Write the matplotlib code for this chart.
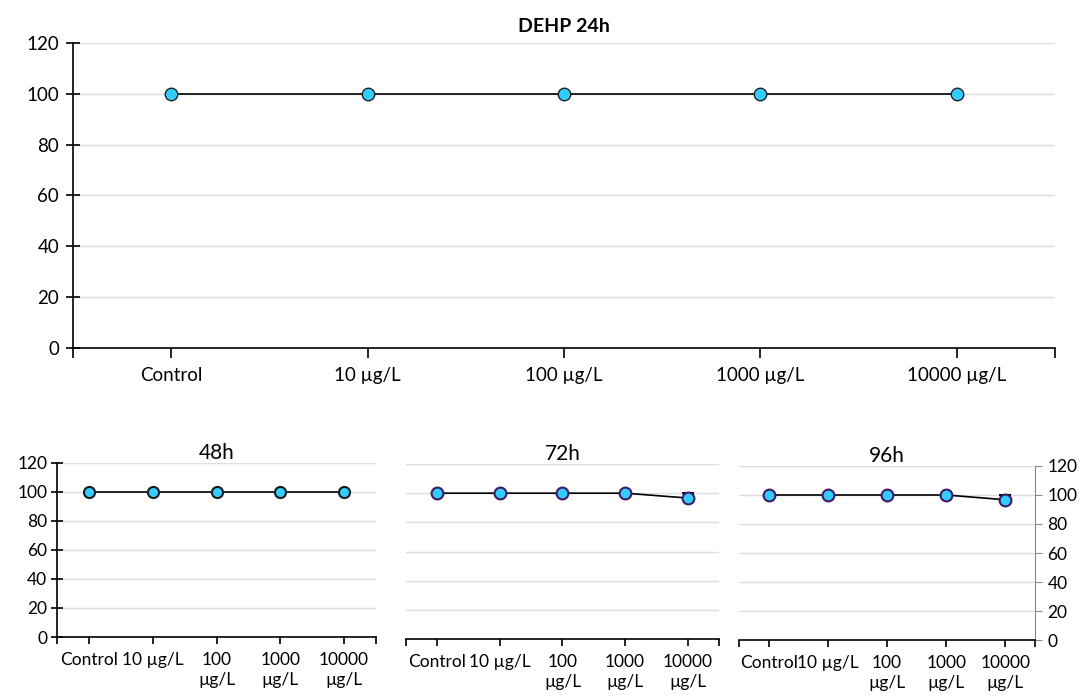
import numpy as np
import matplotlib.pyplot as plt

plt.rcParams['font.family'] = ['Lato', 'DejaVu Sans']

doses = ['Control', '10 µg/L', '100 µg/L', '1000 µg/L', '10000 µg/L']
doses_small = ['Control', '10 µg/L', '100\nµg/L', '1000\nµg/L', '10000\nµg/L']

surv_24h = [100, 100, 100, 100, 100]
surv_48h = [100, 100, 100, 100, 100]
surv_72h = [100, 100, 100, 100, 96.7]
surv_96h = [100, 100, 100, 100, 96.7]
err_72h = [0, 0, 0, 0, 3.3]
err_96h = [0, 0, 0, 0, 3.3]

fill = '#33CCFF'
grid_c = '#DEDEDE'

fig = plt.figure(figsize=(10.88, 7), dpi=100)

def base(ax, n, labels, fs):
    x = np.arange(n)
    ax.set_xlim(-0.5, n - 0.5)
    ax.set_ylim(0, 120)
    ax.set_yticks(range(0, 121, 20))
    ax.set_xticks(x)
    ax.set_xticks([-0.5, n - 0.5], minor=True)
    ax.set_xticklabels(labels, fontsize=fs, linespacing=1.25)
    ax.tick_params(axis='y', labelsize=fs)
    for y in range(20, 121, 20):
        ax.axhline(y, color=grid_c, lw=1, zorder=0)
    for s in ['top', 'right']:
        ax.spines[s].set_visible(False)
    ax.spines['bottom'].set_linewidth(1.2)
    ax.spines['left'].set_linewidth(1.2)
    return x

# 24h - большой график
ax = fig.add_axes([0.0671, 0.5029, 0.9026, 0.4357])
x = base(ax, 5, doses, 13.5)
ax.plot(x, surv_24h, '-', color='black', lw=1.2, marker='o', ms=9,
        mfc=fill, mec='#222222', mew=1, zorder=3)
ax.tick_params(axis='x', which='both', direction='out', length=7, width=1.2, pad=7)
ax.tick_params(axis='y', direction='inout', length=10, width=1.2, pad=5)
ax.set_title('DEHP 24h', fontsize=14, fontweight='bold', pad=8)

# 48h
ax = fig.add_axes([0.0524, 0.09, 0.2932, 0.2486])
x = base(ax, 5, doses_small, 12.5)
ax.plot(x, surv_48h, '-', color='black', lw=1.2, marker='o', ms=8,
        mfc=fill, mec='#1A1A1A', mew=1.5, zorder=3)
ax.tick_params(axis='x', which='both', direction='out', length=5, width=1.2, pad=6)
ax.tick_params(axis='y', direction='inout', length=8, width=1.2, pad=3)
ax.set_title('48h', fontsize=15, pad=2)

# 72h
ax = fig.add_axes([0.3732, 0.0871, 0.2876, 0.25])
x = base(ax, 5, doses_small, 12.5)
ax.errorbar(x, surv_72h, yerr=[np.zeros(5), err_72h], color='black', lw=1.2,
            capsize=4, marker='o', ms=8.5, mfc=fill, mec='#3F1B63', mew=1.5, zorder=3)
ax.spines['left'].set_visible(False)
ax.tick_params(axis='y', left=False, labelleft=False)
ax.tick_params(axis='x', which='both', direction='out', length=5, width=1.2, pad=6)
ax.set_title('72h', fontsize=15, pad=2)

# 96h - ось Y справа
ax = fig.add_axes([0.6792, 0.0857, 0.2721, 0.2486])
x = base(ax, 5, doses_small, 12.5)
ax.errorbar(x, surv_96h, yerr=[np.zeros(5), err_96h], color='black', lw=1.2,
            capsize=4, marker='o', ms=8.5, mfc=fill, mec='#3F1B63', mew=1.5, zorder=3)
ax.spines['left'].set_visible(False)
ax.spines['right'].set_visible(True)
ax.spines['right'].set_color('#888888')
ax.yaxis.tick_right()
ax.tick_params(axis='y', direction='out', length=5, color='#888888', pad=4)
ax.tick_params(axis='x', which='both', direction='out', length=5, width=1.2, pad=6)
ax.set_title('96h', fontsize=15, pad=2)

fig.savefig('out.png', dpi=100)
